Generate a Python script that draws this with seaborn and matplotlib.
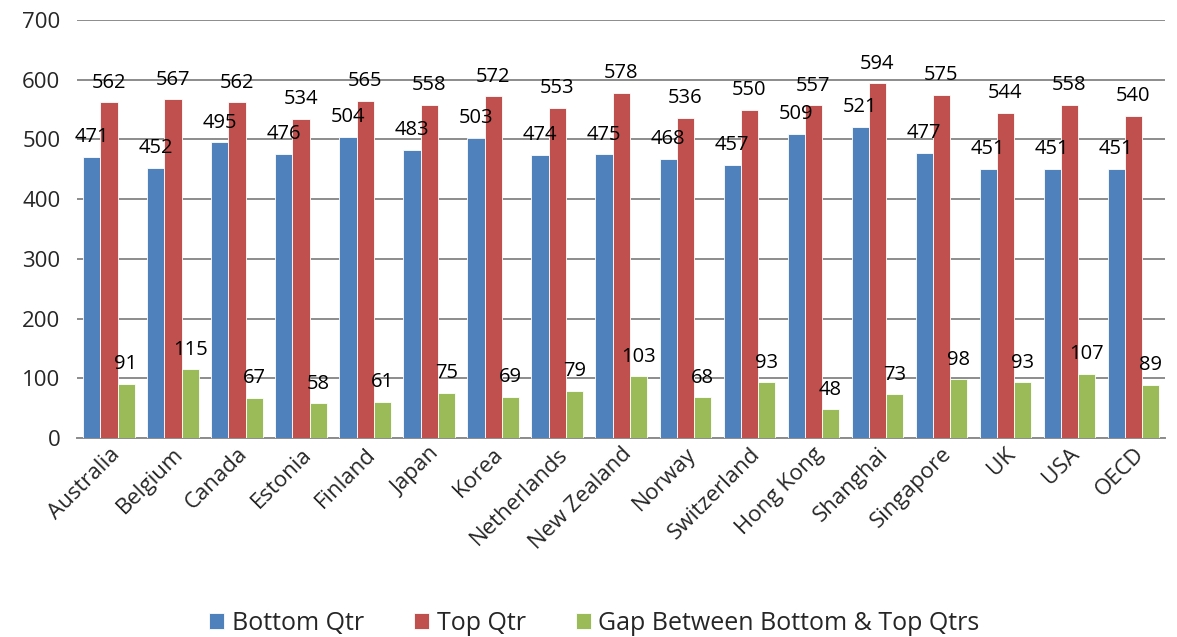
import matplotlib
matplotlib.use("Agg")
import matplotlib.pyplot as plt
import seaborn as sns
import pandas as pd
import numpy as np

countries = ["Australia", "Belgium", "Canada", "Estonia", "Finland", "Japan", "Korea",
             "Netherlands", "New Zealand", "Norway", "Switzerland", "Hong Kong",
             "Shanghai", "Singapore", "UK", "USA", "OECD"]
bottom_qtr = [471, 452, 495, 476, 504, 483, 503, 474, 475, 468, 457, 509, 521, 477, 451, 451, 451]
top_qtr = [562, 567, 562, 534, 565, 558, 572, 553, 578, 536, 550, 557, 594, 575, 544, 558, 540]
gap_qtr = [91, 115, 67, 58, 61, 75, 69, 79, 103, 68, 93, 48, 73, 98, 93, 107, 89]
series_names = ["Bottom Qtr", "Top Qtr", "Gap Between Bottom & Top Qtrs"]
colors = ["#4F81BD", "#C0504D", "#9BBB59"]

df = pd.DataFrame({
    "Country": countries * 3,
    "Series": [series_names[0]] * len(countries) + [series_names[1]] * len(countries) + [series_names[2]] * len(countries),
    "Value": bottom_qtr + top_qtr + gap_qtr,
})

sns.set_theme(style="white")
plt.rcParams["font.family"] = ["Open Sans", "DejaVu Sans"]

fig = plt.figure(figsize=(11.77, 6.37), dpi=100)
ax = fig.add_axes([0.0654, 0.3124, 0.9246, 0.6562])

sns.barplot(data=df, x="Country", y="Value", hue="Series", order=countries,
            hue_order=series_names, palette=colors, width=0.8, ax=ax,
            edgecolor="white", linewidth=0.6, saturation=1, zorder=3)

for cont in ax.containers:
    ax.bar_label(cont, padding=7, fontsize=14.5, color="black")

ax.set_ylim(0, 700)
ax.set_xlim(-0.5, len(countries) - 0.5)
ax.set_yticks(np.arange(0, 701, 100))
ax.yaxis.grid(True, color="#8c8c8c", linewidth=1.4, zorder=0)
ax.xaxis.grid(False)
ax.set_axisbelow(True)
for s in ["top", "right", "left"]:
    ax.spines[s].set_visible(False)
ax.spines["bottom"].set_color("#8c8c8c")
ax.spines["bottom"].set_linewidth(1.4)

ax.set_xlabel("")
ax.set_ylabel("")
ax.tick_params(axis="y", labelsize=16, length=0, pad=12)
ax.tick_params(axis="x", which="major", length=0, labelsize=16, pad=4)
ax.set_xticks(np.arange(-0.5, len(countries)), minor=True)
ax.tick_params(axis="x", which="minor", length=8, width=1.4, color="#8c8c8c", direction="out")
plt.setp(ax.get_xticklabels(), rotation=45, ha="right", rotation_mode="anchor")

handles, labels = ax.get_legend_handles_labels()
ax.legend_.remove()
fig.legend(handles, labels, loc="lower center", bbox_to_anchor=(0.505, -0.033), ncol=3,
           frameon=False, fontsize=18, handlelength=0.6, handleheight=0.6,
           handletextpad=0.3, columnspacing=2.0)

fig.savefig("out.png", dpi=100)
